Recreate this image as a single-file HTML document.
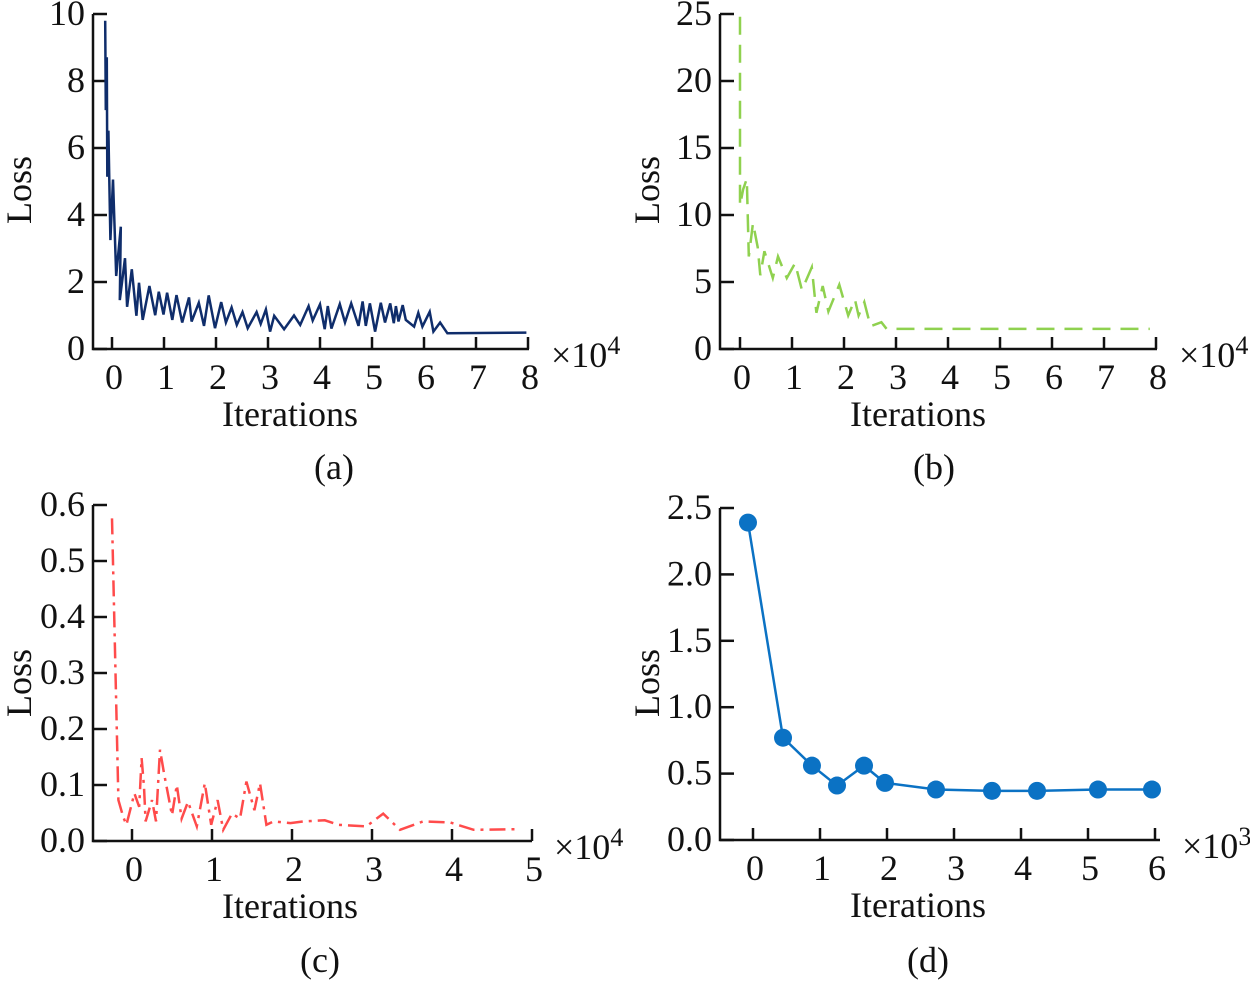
<!DOCTYPE html>
<html><head><meta charset="utf-8"><style>
html,body{margin:0;padding:0;background:#fff;}
svg text{font-family:"Liberation Serif",serif;fill:#111;}
</style></head><body>
<svg id="fig" width="1250" height="982" viewBox="0 0 1250 982" xmlns="http://www.w3.org/2000/svg"></svg>
<script>
// Panel (a) data (x in 1e4 iterations)
const aX=[-0.13,-0.12,-0.10,-0.09,-0.07,-0.03,0.02,0.08,0.17,0.15,0.25,0.29,0.38,0.47,0.52,0.59,0.72,0.83,0.90,0.99,1.06,1.16,1.24,1.35,1.48,1.53,1.67,1.77,1.86,1.98,2.10,2.19,2.30,2.40,2.51,2.61,2.78,2.86,2.96,3.04,3.12,3.31,3.50,3.62,3.78,3.86,4.00,4.09,4.15,4.22,4.38,4.48,4.60,4.74,4.82,4.88,4.96,5.06,5.17,5.25,5.35,5.42,5.46,5.51,5.59,5.65,5.81,5.89,5.97,6.11,6.18,6.31,6.45,7.97];
const aY=[9.80,7.13,8.71,5.14,6.52,3.25,5.06,2.18,3.65,1.46,2.71,1.26,2.38,0.99,1.98,0.87,1.88,1.01,1.71,1.03,1.68,0.87,1.61,0.79,1.54,0.82,1.38,0.69,1.60,0.62,1.40,0.79,1.24,0.72,1.10,0.62,1.10,0.75,1.18,0.52,0.99,0.59,1.00,0.72,1.28,0.85,1.33,0.59,1.28,0.61,1.34,0.79,1.36,0.69,1.42,0.69,1.36,0.52,1.38,0.79,1.36,0.77,1.28,0.82,1.31,0.87,0.67,1.08,0.67,1.11,0.52,0.79,0.47,0.49];
// Panel (b)
const bX=[0,0,0.06,0.13,0.17,0.25,0.34,0.39,0.47,0.63,0.73,0.90,1.06,1.19,1.38,1.47,1.59,1.70,1.91,2.08,2.21,2.28,2.39,2.51,2.72,2.82,7.88];
const bY=[24.8,10.7,11.9,12.7,6.9,9.4,7.6,5.5,7.3,5.3,6.9,5.3,6.4,4.4,6.1,2.7,4.7,2.8,4.8,2.5,3.7,2.5,3.5,1.7,2.0,1.5,1.5];
// Panel (c)
const cX=[-0.25,-0.17,-0.11,-0.07,0.03,0.09,0.12,0.15,0.17,0.25,0.30,0.35,0.40,0.50,0.56,0.62,0.70,0.81,0.91,0.99,1.07,1.14,1.25,1.35,1.43,1.53,1.60,1.68,1.77,1.98,2.14,2.41,2.58,2.93,3.14,3.35,3.64,3.98,4.27,4.83];
const cY=[0.576,0.073,0.043,0.029,0.085,0.061,0.148,0.097,0.035,0.073,0.035,0.163,0.121,0.046,0.100,0.040,0.070,0.026,0.103,0.029,0.073,0.020,0.049,0.040,0.106,0.055,0.103,0.029,0.035,0.032,0.035,0.037,0.029,0.026,0.049,0.020,0.035,0.033,0.020,0.021];
// Panel (d) (x in 1e3 iterations)
const dX=[-0.075,0.448,0.88,1.254,1.657,1.97,2.731,3.567,4.239,5.149,5.955];
const dY=[2.39,0.77,0.56,0.41,0.56,0.43,0.38,0.37,0.37,0.38,0.38];
const aXT=[0,1,2,3,4,5,6,7,8], aYT=[0,2,4,6,8,10];
const bXT=[0,1,2,3,4,5,6,7,8], bYT=[0,5,10,15,20,25];
const cXT=[0,1,2,3,4,5], cYT=[0,0.1,0.2,0.3,0.4,0.5,0.6];
const dXT=[0,1,2,3,4,5,6], dYT=[0,0.5,1.0,1.5,2.0,2.5];

const NS="http://www.w3.org/2000/svg";
const svg=document.getElementById('fig');
function mk(tag,attrs,parent){const e=document.createElementNS(NS,tag);for(const k in attrs)e.setAttribute(k,attrs[k]);(parent||svg).appendChild(e);return e;}
const FS=36;
function panel(cfg){
  const g=mk('g',{});
  
  
  const sx=v=>cfg.x0+(v-cfg.xmin)*cfg.xs;
  const sy=v=>cfg.y0-(v-cfg.ymin)*cfg.ys;
  const axis=mk('path',{d:`M${cfg.ax},${sy(cfg.yT[cfg.yT.length-1])} L${cfg.ax},${cfg.y0} L${cfg.axEnd},${cfg.y0}`,fill:'none',stroke:'#111','stroke-width':2.5},g);
  
  
  cfg.yT.forEach(t=>{
    mk('line',{x1:cfg.ax,y1:sy(t),x2:cfg.ax+14,y2:sy(t),stroke:'#111','stroke-width':2.5},g);
    const tx=mk('text',{x:cfg.ax-8,y:sy(t)+11,'text-anchor':'end','font-size':FS},g);
    tx.textContent=cfg.yFmt?t.toFixed(1):t;
    
    
  });
  cfg.xT.forEach(t=>{
    mk('line',{x1:sx(t),y1:cfg.y0,x2:sx(t),y2:cfg.y0-12,stroke:'#111','stroke-width':2.5},g);
    const tx=mk('text',{x:sx(t)+2,y:cfg.y0+40,'text-anchor':'middle','font-size':FS},g);
    tx.textContent=t;
    
    
  });
  const mult=mk('text',{x:cfg.axEnd+22,y:cfg.y0+18,'font-size':FS},g);
  mult.innerHTML='×10<tspan dy="-13" font-size="26">'+cfg.exp+'</tspan>';
  
  
  const xl=mk('text',{x:cfg.xlx,y:cfg.y0+77,'text-anchor':'middle','font-size':FS},g);
  xl.textContent='Iterations';
  
  
  const yl=mk('text',{x:0,y:0,'text-anchor':'middle','font-size':FS,transform:`translate(${cfg.ylx},${cfg.yly}) rotate(-90)`},g);
  yl.textContent='Loss';
  
  
  const cap=mk('text',{x:cfg.capx,y:cfg.capy,'text-anchor':'middle','font-size':FS},g);
  cap.textContent=cfg.cap;
  
  
  const pts=cfg.X.map((v,i)=>sx(v).toFixed(1)+','+sy(cfg.Y[i]).toFixed(1)).join(' ');
  const ln=mk('polyline',{points:pts,fill:'none',stroke:cfg.color,'stroke-width':2.5,'stroke-linejoin':'miter','stroke-dasharray':cfg.dash||'none'},g);
  
  
  if(cfg.markers){cfg.X.forEach((v,i)=>{
    const c=mk('circle',{cx:sx(v),cy:sy(cfg.Y[i]),r:9,fill:cfg.color},g);
    
    
  });}
}
panel({name:'panel-a',X:aX,Y:aY,xT:aXT,yT:aYT,xmin:0,ymin:0,x0:112,xs:52,y0:349,ys:33.5,ax:93,axEnd:529,exp:4,xlx:290,ylx:31,yly:190,capx:334,capy:479,cap:'(a)',color:'#0f2d6b'});
panel({name:'panel-b',X:bX,Y:bY,xT:bXT,yT:bYT,xmin:0,ymin:0,x0:740,xs:52,y0:349,ys:13.4,ax:720,axEnd:1157,exp:4,xlx:918,ylx:659,yly:190,capx:934,capy:479,cap:'(b)',color:'#8fd14f',dash:'18,10'});
panel({name:'panel-c',X:cX,Y:cY,xT:cXT,yT:cYT,xmin:0,ymin:0,x0:132,xs:80,y0:841,ys:560,ax:93,axEnd:532,exp:4,xlx:290,ylx:31,yly:683,capx:320,capy:972,cap:'(c)',color:'#ff4b4b',dash:'16,6,3,6',yFmt:true});
panel({name:'panel-d',X:dX,Y:dY,xT:dXT,yT:dYT,xmin:0,ymin:0,x0:753,xs:67,y0:840,ys:132.8,ax:720,axEnd:1160,exp:3,xlx:918,ylx:659,yly:683,capx:928,capy:972,cap:'(d)',color:'#0b72c4',markers:true,yFmt:true});
</script>
</body></html>
